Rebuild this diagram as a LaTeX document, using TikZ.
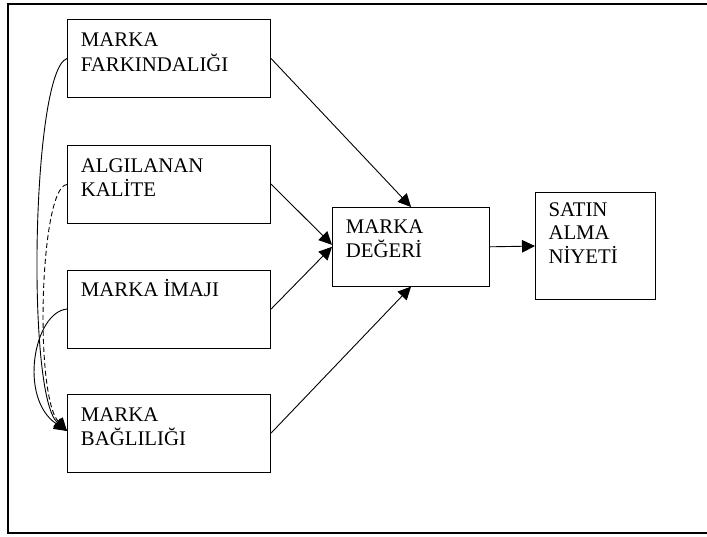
\documentclass[tikz,border=0pt]{standalone}
\usepackage{fontspec}
\setmainfont{Liberation Serif}
\usetikzlibrary{arrows.meta,calc}
\tikzset{
  box/.style={draw, line width=1.1pt, anchor=north west, minimum width=203pt, minimum height=78pt, inner sep=0pt},
  lbl/.style={anchor=base west, inner sep=0pt, font=\fontsize{20.8}{22.8}\selectfont},
  conn/.style={line width=0.9pt, -{Triangle[length=13pt,width=12.5pt]}},
  fb/.style={line width=0.9pt, -{Triangle[length=13pt,width=12pt]}},
}
\newcommand{\twolines}[2]{\begin{tabular}[t]{@{}l@{}}#1\\#2\end{tabular}}
\begin{document}
\begin{tikzpicture}[x=1pt,y=-1pt]
\useasboundingbox (0,0) rectangle (707,536);
\draw[line width=1.8pt] (708,4) -- (8,4) -- (8,533) -- (708,533);
% boxes
\node[box] (b1) at (67,19) {};
\node[box] (b2) at (67,145) {};
\node[box] (b3) at (67,269.5) {};
\node[box] (b4) at (67,394) {};
\node[box, minimum width=157pt, minimum height=78.5pt] (c) at (332,207) {};
\node[box, minimum width=120pt, minimum height=107pt] (s) at (535,192) {};
% labels
\node[lbl] (t1) at (80.7,46.7) {\twolines{MARKA}{FARKINDALIĞI}};
\node[lbl] (t2) at (80.7,172.2) {\twolines{ALGILANAN}{KALİTE}};
\node[lbl] (t3) at (80.7,296) {MARKA İMAJI};
\node[lbl] (t4) at (80.7,421) {\twolines{MARKA}{BAĞLILIĞI}};
\node[lbl] (tc) at (345.7,233.3) {\twolines{MARKA}{DEĞERİ}};
\node[lbl] (ts) at (548.3,216.7) {\begin{tabular}[t]{@{}l@{}}SATIN\\ALMA\\NİYETİ\end{tabular}};
% connectors
\draw[conn] (b1.east) -- (c.north);
\draw[conn] ($(b2.east)+(0,-0.5)$) -- ($(c.west)+(0,-2)$);
\draw[conn] (b3.east) -- (c.west);
\draw[conn] ($(b4.east)+(0,-0.5)$) -- (c.south);
\draw[conn] (c.east) -- (s.west);
% left curves
\coordinate (tip) at (67,431);
\draw[fb] (b1.west) .. controls (32,70) and (26,395) .. (tip);
\draw[fb, dashed, dash pattern=on 5pt off 3pt] (b2.west) .. controls (40,186) and (34,395) .. (tip);
\draw[fb] (b3.west) .. controls (34,312) and (18,398) .. (tip);
\end{tikzpicture}
\end{document}
